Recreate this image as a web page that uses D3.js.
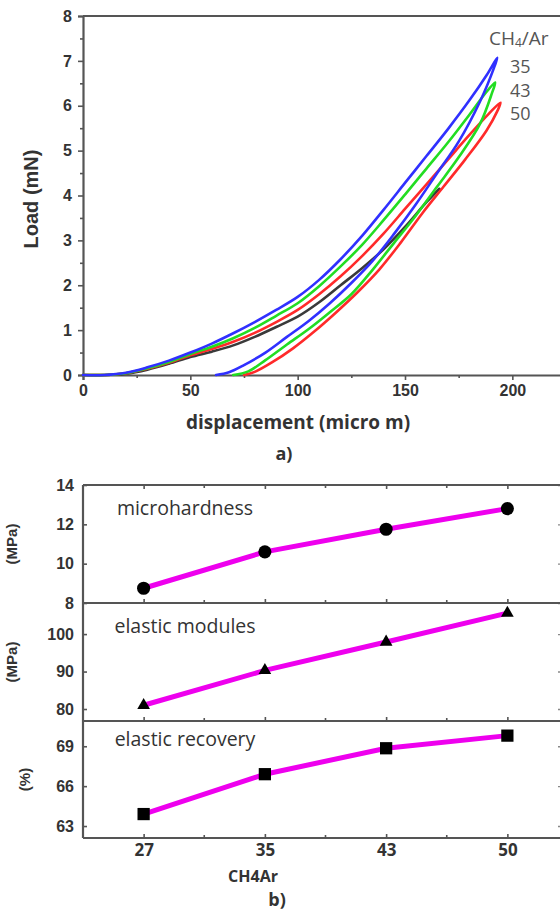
<!DOCTYPE html>
<html><head><meta charset="utf-8">
<script src="https://cdn.jsdelivr.net/npm/d3@7"></script>
<style>
html,body{margin:0;padding:0;background:#fff;}
svg{display:block;}
</style></head>
<body>
<script>
// ---------- DATA: panel a) load-displacement ----------
const loadTicks = [0,1,2,3,4,5,6,7,8];
const dispTicks = [0,50,100,150,200];
const legendLabels = ["35","43","50"];
const blueLoad   = [[0,0],[10,0],[20,0.05],[30,0.17],[40,0.32],[50,0.5],[60,0.7],[70,0.93],[80,1.18],[90,1.45],[100,1.74],[110,2.12],[120,2.58],[130,3.1],[140,3.68],[150,4.28],[160,4.88],[170,5.48],[180,6.12],[188,6.68],[193,7.07]];
const blueUnload = [[193,7.07],[191.5,6.85],[185,6.1],[175,5.2],[165,4.5],[155,3.8],[145,3.15],[135,2.55],[125,2.05],[115,1.6],[105,1.2],[95,0.85],[85,0.5],[75,0.22],[68,0.06],[62,0]];
const greenLoad   = [[0,0],[10,0],[20,0.04],[30,0.15],[40,0.29],[50,0.47],[60,0.63],[70,0.82],[80,1.05],[90,1.32],[100,1.6],[110,1.98],[120,2.42],[130,2.9],[140,3.45],[150,4.02],[160,4.6],[170,5.18],[180,5.8],[187,6.25],[192,6.52]];
const greenUnload = [[192,6.52],[190.5,6.28],[185,5.6],[175,4.85],[165,4.2],[155,3.55],[145,2.95],[135,2.35],[125,1.8],[115,1.4],[105,1.02],[95,0.68],[85,0.33],[77,0.08],[70,0]];
const redLoad   = [[0,0],[10,0],[20,0.04],[30,0.14],[40,0.27],[50,0.44],[60,0.58],[70,0.74],[80,0.94],[90,1.18],[100,1.45],[110,1.8],[120,2.2],[130,2.65],[140,3.15],[150,3.7],[160,4.25],[170,4.8],[180,5.35],[189,5.82],[194.5,6.07]];
const redUnload = [[194.5,6.07],[193,5.88],[188,5.45],[178,4.8],[168,4.2],[158,3.6],[148,2.95],[138,2.35],[128,1.85],[118,1.4],[108,0.98],[98,0.6],[88,0.28],[80,0.07],[75,0]];
const blackLoad = [[0,0],[10,0],[20,0.03],[30,0.12],[40,0.25],[50,0.4],[60,0.52],[70,0.66],[80,0.85],[90,1.07],[100,1.3],[110,1.62],[120,2.0],[130,2.38],[140,2.8],[150,3.3],[160,3.85],[166,4.15]];

// ---------- DATA: panel b) properties vs CH4/Ar ----------
const ratios = ["27","35","43","50"];
const microhardness = [8.75, 10.6, 11.75, 12.8];
const elasticModules = [81.0, 90.3, 97.9, 105.6];
const elasticRecovery = [63.9, 66.9, 68.85, 69.8];
const hardTicks = [8,10,12,14];
const modTicks = [80,90,100];
const recTicks = [63,66,69];

const W = 560, H = 923;
const svg = d3.select("body").append("svg").attr("width", W).attr("height", H);
svg.append("rect").attr("width",W).attr("height",H).attr("fill","#fff");

const axisCol = "#555";
const tickFont = "'Liberation Sans', Arial, sans-serif";
const titleFont = "'Open Sans', 'Noto Sans', sans-serif";

// ================= Panel a =================
const xA = d3.scaleLinear().domain([0,225]).range([83,566]);
const yA = d3.scaleLinear().domain([0,8]).range([375,16]);

const gA = svg.append("g");
gA.append("line").attr("x1",xA(0)).attr("x2",W).attr("y1",yA(8)).attr("y2",yA(8)).attr("stroke",axisCol).attr("stroke-width",2.2);

const yAxisA = d3.axisLeft(yA).tickValues(loadTicks).tickSize(5).tickPadding(6).tickFormat(d3.format("d"));
const gyA = gA.append("g").attr("transform",`translate(${xA(0)},0)`).call(yAxisA);
const yMinorA = d3.axisLeft(yA).tickValues(d3.range(0.5,8,1)).tickSize(3).tickFormat("");
gA.append("g").attr("transform",`translate(${xA(0)},0)`).call(yMinorA).select(".domain").remove();

const xAxisA = d3.axisBottom(xA).tickValues(dispTicks).tickSize(5).tickPadding(5);
const gxA = gA.append("g").attr("transform",`translate(0,${yA(0)})`).call(xAxisA);
const xMinorA = d3.axisBottom(xA).tickValues([25,75,125,175,225]).tickSize(3).tickFormat("");
gA.append("g").attr("transform",`translate(0,${yA(0)})`).call(xMinorA).select(".domain").remove();

[gyA,gxA].forEach(g=>{
  g.select(".domain").attr("stroke",axisCol).attr("stroke-width",2.2);
  g.selectAll(".tick text").attr("font-family",tickFont).attr("font-weight","bold").attr("font-size",16).attr("fill","#333");
});
gA.selectAll(".tick line").attr("stroke",axisCol).attr("stroke-width",1.6);

const lineA = d3.line().x(d=>xA(d[0])).y(d=>yA(d[1])).curve(d3.curveCatmullRom.alpha(0.5));
const curves = [
  {data: blackLoad, color:"#3a3a3a"},
  {data: redLoad.concat(redUnload.slice(1)), color:"#ff2a2a"},
  {data: greenLoad.concat(greenUnload.slice(1)), color:"#22dd22"},
  {data: blueLoad.concat(blueUnload.slice(1)), color:"#3030ff"}
];
gA.selectAll("path.curve").data(curves).join("path").attr("class","curve")
  .attr("d",d=>lineA(d.data)).attr("fill","none").attr("stroke",d=>d.color)
  .attr("stroke-width",2.6).attr("stroke-linejoin","round").attr("stroke-linecap","round");

// legend
const leg = gA.append("text").attr("x",489).attr("y",45).attr("font-family",titleFont).attr("font-size",19).attr("fill","#555");
leg.append("tspan").text("CH");
leg.append("tspan").attr("font-size",12).attr("dy",2).text("4");
leg.append("tspan").attr("dy",-2).text("/Ar");
gA.selectAll("text.leg").data(legendLabels).join("text").attr("class","leg")
  .attr("x",510).attr("y",(d,i)=>73+i*23.5).attr("font-family",titleFont).attr("font-size",18).attr("fill","#555").text(d=>d);

// titles
gA.append("text").attr("transform",`translate(38,199) rotate(-90)`).attr("text-anchor","middle")
  .attr("font-family",tickFont).attr("font-weight","bold").attr("font-size",20).attr("fill","#333").text("Load (mN)");
gA.append("text").attr("x",298).attr("y",429).attr("text-anchor","middle")
  .attr("font-family",titleFont).attr("font-weight","bold").attr("font-size",19).attr("fill","#333").text("displacement (micro m)");
gA.append("text").attr("x",284).attr("y",460).attr("text-anchor","middle")
  .attr("font-family",titleFont).attr("font-weight","bold").attr("font-size",18).attr("fill","#333").text("a)");

// ================= Panel b =================
const xB = d3.scalePoint().domain(ratios).range([83,568]).padding(0.5);
const panels = [
  {vals: microhardness, ticks: hardTicks, domain:[8,14], top:485, bottom:603, label:"microhardness", ly:30, ylab:"(MPa)", ylabX:17, marker:"circle"},
  {vals: elasticModules, ticks: modTicks, domain:[76.8,108.3], top:603, bottom:721, label:"elastic modules", ly:30, ylab:"(MPa)", ylabX:17, marker:"triangle"},
  {vals: elasticRecovery, ticks: recTicks, domain:[62.1,70.9], top:721, bottom:838, label:"elastic recovery", ly:25, ylab:"(%)", ylabX:30, marker:"square"}
];
const step = xB.step();
const minorX = ratios.slice(0,-1).map(r=>xB(r)+step/2);

const gB = svg.append("g");
panels.forEach((p,pi)=>{
  const y = d3.scaleLinear().domain(p.domain).range([p.bottom,p.top]);
  const g = gB.append("g");
  const ya = d3.axisLeft(y).tickValues(p.ticks).tickSizeInner(-4).tickSizeOuter(0).tickPadding(9).tickFormat(d3.format("d"));
  const gy = g.append("g").attr("transform",`translate(83,0)`).call(ya);
  gy.select(".domain").attr("stroke",axisCol).attr("stroke-width",2.2).attr("d",`M0,${p.top}V${p.bottom}`);
  gy.selectAll(".tick line").attr("stroke",axisCol).attr("stroke-width",1.6);
  gy.selectAll(".tick text").attr("font-family",tickFont).attr("font-weight","bold").attr("font-size",16).attr("fill","#333");
  const ra = d3.axisRight(y).tickValues(p.ticks).tickSizeInner(-5).tickSizeOuter(0).tickFormat("");
  const gr = g.append("g").attr("transform",`translate(563,0)`).call(ra);
  gr.select(".domain").remove();
  gr.selectAll(".tick line").attr("stroke","#888").attr("stroke-width",1.4);
  g.append("line").attr("x1",83).attr("x2",W).attr("y1",p.bottom).attr("y2",p.bottom).attr("stroke",axisCol).attr("stroke-width",2.2);
  if(pi===0) g.append("line").attr("x1",83).attr("x2",W).attr("y1",p.top).attr("y2",p.top).attr("stroke",axisCol).attr("stroke-width",2.2);
  const bx = d3.axisTop(xB).tickSizeInner(4).tickSizeOuter(0).tickFormat("");
  const gbx = g.append("g").attr("transform",`translate(0,${p.bottom})`).call(bx);
  gbx.select(".domain").remove();
  gbx.selectAll(".tick line").attr("stroke",axisCol).attr("stroke-width",1.6);
  g.selectAll("line.minb").data(minorX).join("line").attr("class","minb")
    .attr("x1",d=>d).attr("x2",d=>d).attr("y1",p.bottom).attr("y2",p.bottom-3).attr("stroke",axisCol).attr("stroke-width",1.6);
  if(pi===0){
    const tx = d3.axisBottom(xB).tickSizeInner(4).tickSizeOuter(0).tickFormat("");
    const gtx = g.append("g").attr("transform",`translate(0,${p.top})`).call(tx);
    gtx.select(".domain").remove();
    gtx.selectAll(".tick line").attr("stroke",axisCol).attr("stroke-width",1.6);
    g.selectAll("line.mint").data(minorX).join("line").attr("class","mint")
      .attr("x1",d=>d).attr("x2",d=>d).attr("y1",p.top).attr("y2",p.top+3).attr("stroke",axisCol).attr("stroke-width",1.6);
  }
  const ln = d3.line().x((d,i)=>xB(ratios[i])).y(d=>y(d));
  g.append("path").attr("d",ln(p.vals)).attr("fill","none").attr("stroke","#ee00ee").attr("stroke-width",5);
  const sym = p.marker==="circle"? d3.symbolCircle : p.marker==="triangle"? d3.symbolTriangle : d3.symbolSquare;
  const size = p.marker==="circle"? 135 : p.marker==="triangle"? 70 : 150;
  g.selectAll("path.mk").data(p.vals).join("path").attr("class","mk")
    .attr("transform",(d,i)=>`translate(${xB(ratios[i])},${y(d)})`)
    .attr("d",d3.symbol().type(sym).size(size)).attr("fill","#000");
  g.append("text").attr("x",185).attr("y",p.top + p.ly).attr("text-anchor","middle")
    .attr("font-family",titleFont).attr("font-size",19.5).attr("fill","#333").text(p.label);
  g.append("text").attr("transform",`translate(${p.ylabX},${(p.top+p.bottom)/2}) rotate(-90)`).attr("text-anchor","middle")
    .attr("font-family",tickFont).attr("font-weight","bold").attr("font-size",15).attr("fill","#333").text(p.ylab);
});
const gxb = gB.append("g").attr("transform","translate(0,838)")
  .call(d3.axisBottom(xB).tickSize(0).tickPadding(6));
gxb.select(".domain").remove();
gxb.selectAll(".tick text").attr("font-family",titleFont).attr("font-weight","bold").attr("font-size",17).attr("fill","#333");
gB.append("text").attr("x",253).attr("y",882).attr("text-anchor","middle")
  .attr("font-family",titleFont).attr("font-weight","bold").attr("font-size",16).attr("fill","#333").text("CH4Ar");
gB.append("text").attr("x",277).attr("y",906).attr("text-anchor","middle")
  .attr("font-family",titleFont).attr("font-weight","bold").attr("font-size",18).attr("fill","#333").text("b)");
</script>
</body></html>
